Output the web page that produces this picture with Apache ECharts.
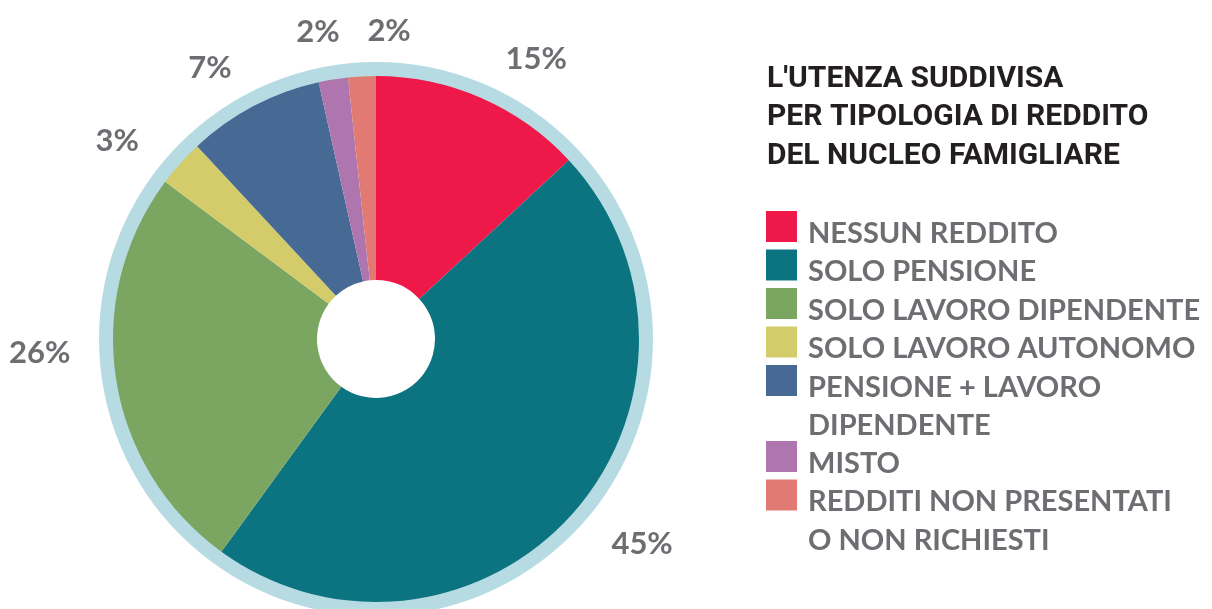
<!DOCTYPE html>
<html>
<head>
<meta charset="utf-8">
<script src="https://cdn.jsdelivr.net/npm/echarts@6/dist/echarts.min.js"></script>
<style>
html,body{margin:0;padding:0;background:#ffffff;}
#chart{width:1212px;height:609px;}
</style>
</head>
<body>
<div id="chart"></div>
<script>
// ---- data ----
var categories = [
  'NESSUN REDDITO',
  'SOLO PENSIONE',
  'SOLO LAVORO DIPENDENTE',
  'SOLO LAVORO AUTONOMO',
  'PENSIONE + LAVORO\nDIPENDENTE',
  'MISTO',
  'REDDITI NON PRESENTATI\nO NON RICHIESTI'
];
// slice sizes as drawn (share of the circle, %)
var sliceValues = [13.1, 46.9, 25.2, 2.9, 8.4, 1.8, 1.7];
// percentages printed next to the slices
var printedPct = [15, 45, 26, 3, 7, 2, 2];
var titleText = "L'UTENZA SUDDIVISA\nPER TIPOLOGIA DI REDDITO\nDEL NUCLEO FAMIGLIARE";

// ---- styling ----
var colors = ['#ee1849', '#0b7480', '#7ba661', '#d4cc6b', '#476a95', '#ae75ae', '#e27a74'];
var ringColor = '#b7dbe2';
var labelNudgeX = [0, 0, 3, -3, 5, 21, 59];
var labelNudgeY = [-1, 3, -32, 5, -2, -7, -4];

var chart = echarts.init(document.getElementById('chart'), null, {renderer: 'canvas'});

var pieData = categories.map(function (c, i) {
  return { name: c, value: sliceValues[i], itemStyle: { color: colors[i] } };
});

var legendText = {
  fontFamily: 'Lato',
  fontWeight: 'bold',
  fontSize: 29,
  color: '#6d6e71',
  lineHeight: 38.5,
  height: 38.5,
  padding: [14, 0, 0, 6],
  rich: {
    t: { fontFamily: 'Lato', fontWeight: 'bold', fontSize: 29, color: '#6d6e71', lineHeight: 38.5 }
  }
};
function legendFmt(name) { return '{t|' + name + '}'; }

var option = {
  backgroundColor: '#ffffff',
  animation: false,
  title: {
    text: titleText,
    left: 767,
    top: 60,
    padding: 0,
    textStyle: {
      fontFamily: 'Roboto',
      fontWeight: 'bold',
      fontSize: 30,
      lineHeight: 38.5,
      color: '#231f20'
    }
  },
  legend: [
    {
      data: categories.slice(0, 5),
      orient: 'vertical',
      left: 766,
      top: 200.25,
      padding: 0,
      itemGap: -14,
      itemWidth: 31,
      itemHeight: 31,
      icon: 'rect',
      selectedMode: false,
      formatter: legendFmt,
      textStyle: legendText
    },
    {
      data: categories.slice(5),
      orient: 'vertical',
      left: 766,
      top: 430.25,
      padding: 0,
      itemGap: -14,
      itemWidth: 31,
      itemHeight: 31,
      icon: 'rect',
      selectedMode: false,
      formatter: legendFmt,
      textStyle: legendText
    }
  ],
  series: [
    {
      name: 'ring',
      type: 'pie',
      center: [376, 339],
      radius: [255, 277],
      silent: true,
      label: { show: false },
      labelLine: { show: false },
      emphasis: { disabled: true },
      itemStyle: { color: ringColor, borderWidth: 0 },
      data: [{ name: 'ring', value: 1 }]
    },
    {
      name: 'reddito',
      type: 'pie',
      center: [376, 339],
      radius: [59, 263],
      startAngle: 90,
      clockwise: true,
      avoidLabelOverlap: false,
      emphasis: { disabled: true },
      itemStyle: { borderWidth: 0 },
      label: {
        show: true,
        position: 'outside',
        distanceToLabelLine: 5,
        formatter: function (p) { return printedPct[p.dataIndex] + '%'; },
        fontFamily: 'Lato',
        fontWeight: 'bold',
        fontSize: 31,
        color: '#6d6e71'
      },
      labelLine: { show: false, length: 41, length2: 3 },
      labelLayout: function (p) {
        return { dx: labelNudgeX[p.dataIndex], dy: labelNudgeY[p.dataIndex] };
      },
      data: pieData
    }
  ]
};
chart.setOption(option);
</script>
</body>
</html>
